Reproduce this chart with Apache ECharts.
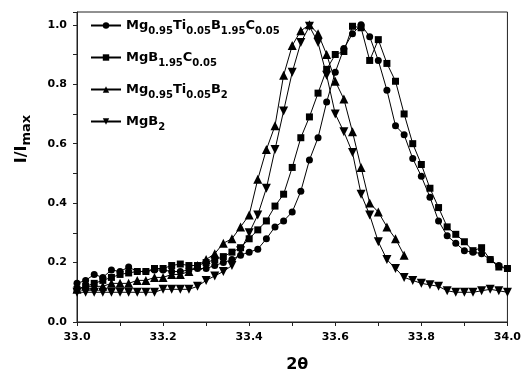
<!DOCTYPE html>
<html>
<head>
<meta charset="utf-8">
<script src="https://cdn.jsdelivr.net/npm/echarts@6/dist/echarts.min.js"></script>
<style>
  html, body { margin: 0; padding: 0; background: #fff; }
  #chart { width: 524px; height: 378px; }
</style>
</head>
<body>
<div id="chart"></div>
<script>
// 2θ positions (deg)
const twoTheta = [
  33.00, 33.02, 33.04, 33.06, 33.08, 33.10, 33.12, 33.14, 33.16, 33.18,
  33.20, 33.22, 33.24, 33.26, 33.28, 33.30, 33.32, 33.34, 33.36, 33.38,
  33.40, 33.42, 33.44, 33.46, 33.48, 33.50, 33.52, 33.54, 33.56, 33.58,
  33.60, 33.62, 33.64, 33.66, 33.68, 33.70, 33.72, 33.74, 33.76, 33.78,
  33.80, 33.82, 33.84, 33.86, 33.88, 33.90, 33.92, 33.94, 33.96, 33.98,
  34.00
];

// I/Imax, one array per sample
const mgTiBC = [
  0.13, 0.14, 0.16, 0.15, 0.175, 0.17, 0.185, 0.17, 0.17, 0.175,
  0.175, 0.17, 0.17, 0.175, 0.18, 0.18, 0.19, 0.20, 0.21, 0.225,
  0.235, 0.245, 0.28, 0.32, 0.34, 0.37, 0.44, 0.545, 0.62, 0.74,
  0.84, 0.92, 0.97, 1.0, 0.96, 0.88, 0.78, 0.66, 0.63, 0.55,
  0.49, 0.42, 0.34, 0.29, 0.265, 0.24, 0.235, 0.23, 0.21, 0.19,
  0.18
];
const mgBC = [
  0.11, 0.12, 0.13, 0.14, 0.15, 0.16, 0.165, 0.17, 0.17, 0.18,
  0.18, 0.19, 0.195, 0.19, 0.19, 0.20, 0.21, 0.22, 0.235, 0.25,
  0.28, 0.31, 0.34, 0.39, 0.43, 0.52, 0.62, 0.69, 0.77, 0.85,
  0.90, 0.91, 0.995, 0.99, 0.88, 0.95, 0.87, 0.81, 0.70, 0.60,
  0.53, 0.45, 0.385, 0.32, 0.295, 0.27, 0.24, 0.25, 0.21, 0.185,
  0.18
];
const mgTiB2 = [
  0.11, 0.12, 0.12, 0.12, 0.13, 0.13, 0.13, 0.14, 0.14, 0.15,
  0.15, 0.16, 0.16, 0.17, 0.19, 0.21, 0.23, 0.265, 0.28, 0.32,
  0.36, 0.48, 0.58, 0.66, 0.83, 0.93, 0.98, 1.0, 0.97, 0.90,
  0.81, 0.75, 0.64, 0.52, 0.40, 0.37, 0.32, 0.28, 0.225, null,
  null, null, null, null, null, null, null, null, null, null,
  null
];
const mgB2 = [
  0.10, 0.10, 0.10, 0.10, 0.10, 0.10, 0.10, 0.10, 0.10, 0.10,
  0.11, 0.11, 0.11, 0.11, 0.12, 0.14, 0.155, 0.17, 0.19, 0.24,
  0.30, 0.36, 0.45, 0.58, 0.71, 0.84, 0.94, 0.995, 0.94, 0.83,
  0.70, 0.64, 0.57, 0.43, 0.36, 0.27, 0.21, 0.18, 0.15, 0.14,
  0.13, 0.125, 0.12, 0.105, 0.10, 0.10, 0.10, 0.105, 0.11, 0.105,
  0.10
];

const sampleNames = ['Mg0.95Ti0.05B1.95C0.05', 'MgB1.95C0.05', 'Mg0.95Ti0.05B2', 'MgB2'];

const font = 'DejaVu Sans';

// turn the numbers in a formula into subscripts
function formula(name) {
  return name.replace(/(\d+(\.\d+)?)/g, '{s|$1}');
}

function pairs(ys) {
  return twoTheta.map((x, i) => [x, ys[i]]);
}

function makeSeries(name, ys, symbol, size, rotate) {
  return {
    name: name,
    type: 'line',
    data: pairs(ys),
    symbol: symbol,
    symbolSize: size,
    symbolRotate: rotate || 0,
    showAllSymbol: true,
    connectNulls: false,
    lineStyle: { color: '#000', width: 1 },
    itemStyle: { color: '#000', borderWidth: 0 },
    emphasis: { disabled: true },
    animation: false
  };
}

const chart = echarts.init(document.getElementById('chart'));
chart.setOption({
  animation: false,
  grid: {
    left: 77, right: 12, top: 12, bottom: 50,
    show: true, borderColor: '#222', borderWidth: 1
  },
  legend: {
    orient: 'vertical',
    left: 85, top: 14,
    itemWidth: 30, itemHeight: 8,
    itemGap: 15,
    data: sampleNames,
    formatter: formula,
    textStyle: {
      fontFamily: font, fontWeight: 'bold', fontSize: 13, color: '#000',
      rich: {
        s: { fontFamily: font, fontWeight: 'bold', fontSize: 10, color: '#000', padding: [11, 0, 0, 0] }
      }
    }
  },
  xAxis: {
    type: 'value',
    min: 33, max: 34, interval: 0.2,
    name: '2θ',
    nameLocation: 'middle',
    nameGap: 35,
    nameTextStyle: { fontFamily: font, fontWeight: 'bold', fontSize: 16, color: '#000', padding: [0, 0, 0, 10] },
    axisLine: { lineStyle: { color: '#222', width: 1 } },
    axisTick: { show: true, inside: false, length: 4, lineStyle: { color: '#222' } },
    minorTick: { show: true, splitNumber: 2, length: 4, lineStyle: { color: '#222' } },
    splitLine: { show: false },
    axisLabel: {
      fontFamily: font, fontWeight: 'bold', fontSize: 11, color: '#000', margin: 10,
      formatter: v => v.toFixed(1)
    }
  },
  yAxis: {
    type: 'value',
    min: 0, max: 1.043, interval: 0.2,
    name: '{a|I/I}{b|max}',
    nameLocation: 'middle',
    nameGap: 44,
    nameRotate: 90,
    nameTextStyle: {
      padding: [0, 0, 0, 56],
      rich: {
        a: { fontFamily: font, fontWeight: 'bold', fontSize: 16, color: '#000' },
        b: { fontFamily: font, fontWeight: 'bold', fontSize: 13, color: '#000', padding: [10, 0, 0, 0] }
      }
    },
    axisLine: { show: true, lineStyle: { color: '#222', width: 1 } },
    axisTick: { show: true, inside: false, length: 4, lineStyle: { color: '#222' } },
    minorTick: { show: true, splitNumber: 2, length: 4, lineStyle: { color: '#222' } },
    splitLine: { show: false },
    axisLabel: {
      fontFamily: font, fontWeight: 'bold', fontSize: 11, color: '#000', margin: 10,
      showMaxLabel: false,
      formatter: v => (v > 1.001 ? '' : v.toFixed(1))
    }
  },
  series: [
    makeSeries(sampleNames[0], mgTiBC, 'circle', 7),
    makeSeries(sampleNames[1], mgBC, 'rect', 7),
    makeSeries(sampleNames[2], mgTiB2, 'triangle', 9),
    makeSeries(sampleNames[3], mgB2, 'triangle', 9, 180)
  ]
});
</script>
</body>
</html>
